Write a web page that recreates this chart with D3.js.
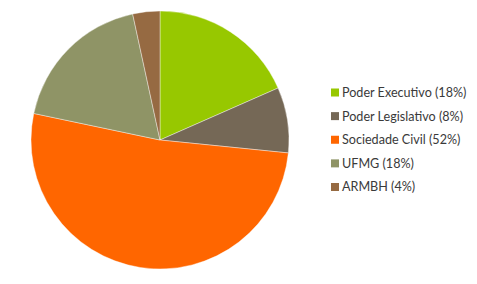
<!DOCTYPE html>
<html>
<head>
<meta charset="utf-8">
<script src="https://cdn.jsdelivr.net/npm/d3@7"></script>
<style>
  body { margin: 0; background: #fff; }
  svg { display: block; }
</style>
</head>
<body>
<div id="chart"></div>
<script>
// data
var categories = ["Poder Executivo", "Poder Legislativo", "Sociedade Civil", "UFMG", "ARMBH"];
var values = [18.4, 8.2, 51.7, 18.3, 3.4];
var labels = ["Poder Executivo (18%)", "Poder Legislativo (8%)", "Sociedade Civil (52%)", "UFMG (18%)", "ARMBH (4%)"];
var colors = ["#97c800", "#756856", "#ff6600", "#8f9466", "#966a42"];

var width = 477, height = 284;
var cx = 160, cy = 140, radius = 129;

var svg = d3.select("#chart").append("svg")
    .attr("width", width)
    .attr("height", height);

var pie = d3.pie().sort(null).value(function(d){ return d; });
var arc = d3.arc().innerRadius(0).outerRadius(radius);

var g = svg.append("g").attr("transform", "translate(" + cx + "," + cy + ")");

g.selectAll("path")
    .data(pie(values))
    .enter()
    .append("path")
    .attr("d", arc)
    .attr("fill", function(d, i){ return colors[i]; })
    .attr("stroke", "#fff")
    .attr("stroke-width", 0.4);

// legend
var legendY = d3.scalePoint().domain(categories).range([92.5, 187]);

var legend = svg.append("g").attr("class", "legend");

var item = legend.selectAll("g")
    .data(categories)
    .enter()
    .append("g")
    .attr("transform", function(d){ return "translate(331," + legendY(d) + ")"; });

item.append("rect")
    .attr("x", 0)
    .attr("y", -4)
    .attr("width", 8)
    .attr("height", 8)
    .attr("fill", function(d, i){ return colors[i]; });

item.append("text")
    .attr("x", 11)
    .attr("y", 0)
    .attr("dy", "0.35em")
    .style("font-family", "Lato, 'Open Sans', sans-serif")
    .style("font-size", "12.6px")
    .style("fill", "#3a3a3a")
    .text(function(d, i){ return labels[i]; });
</script>
</body>
</html>
